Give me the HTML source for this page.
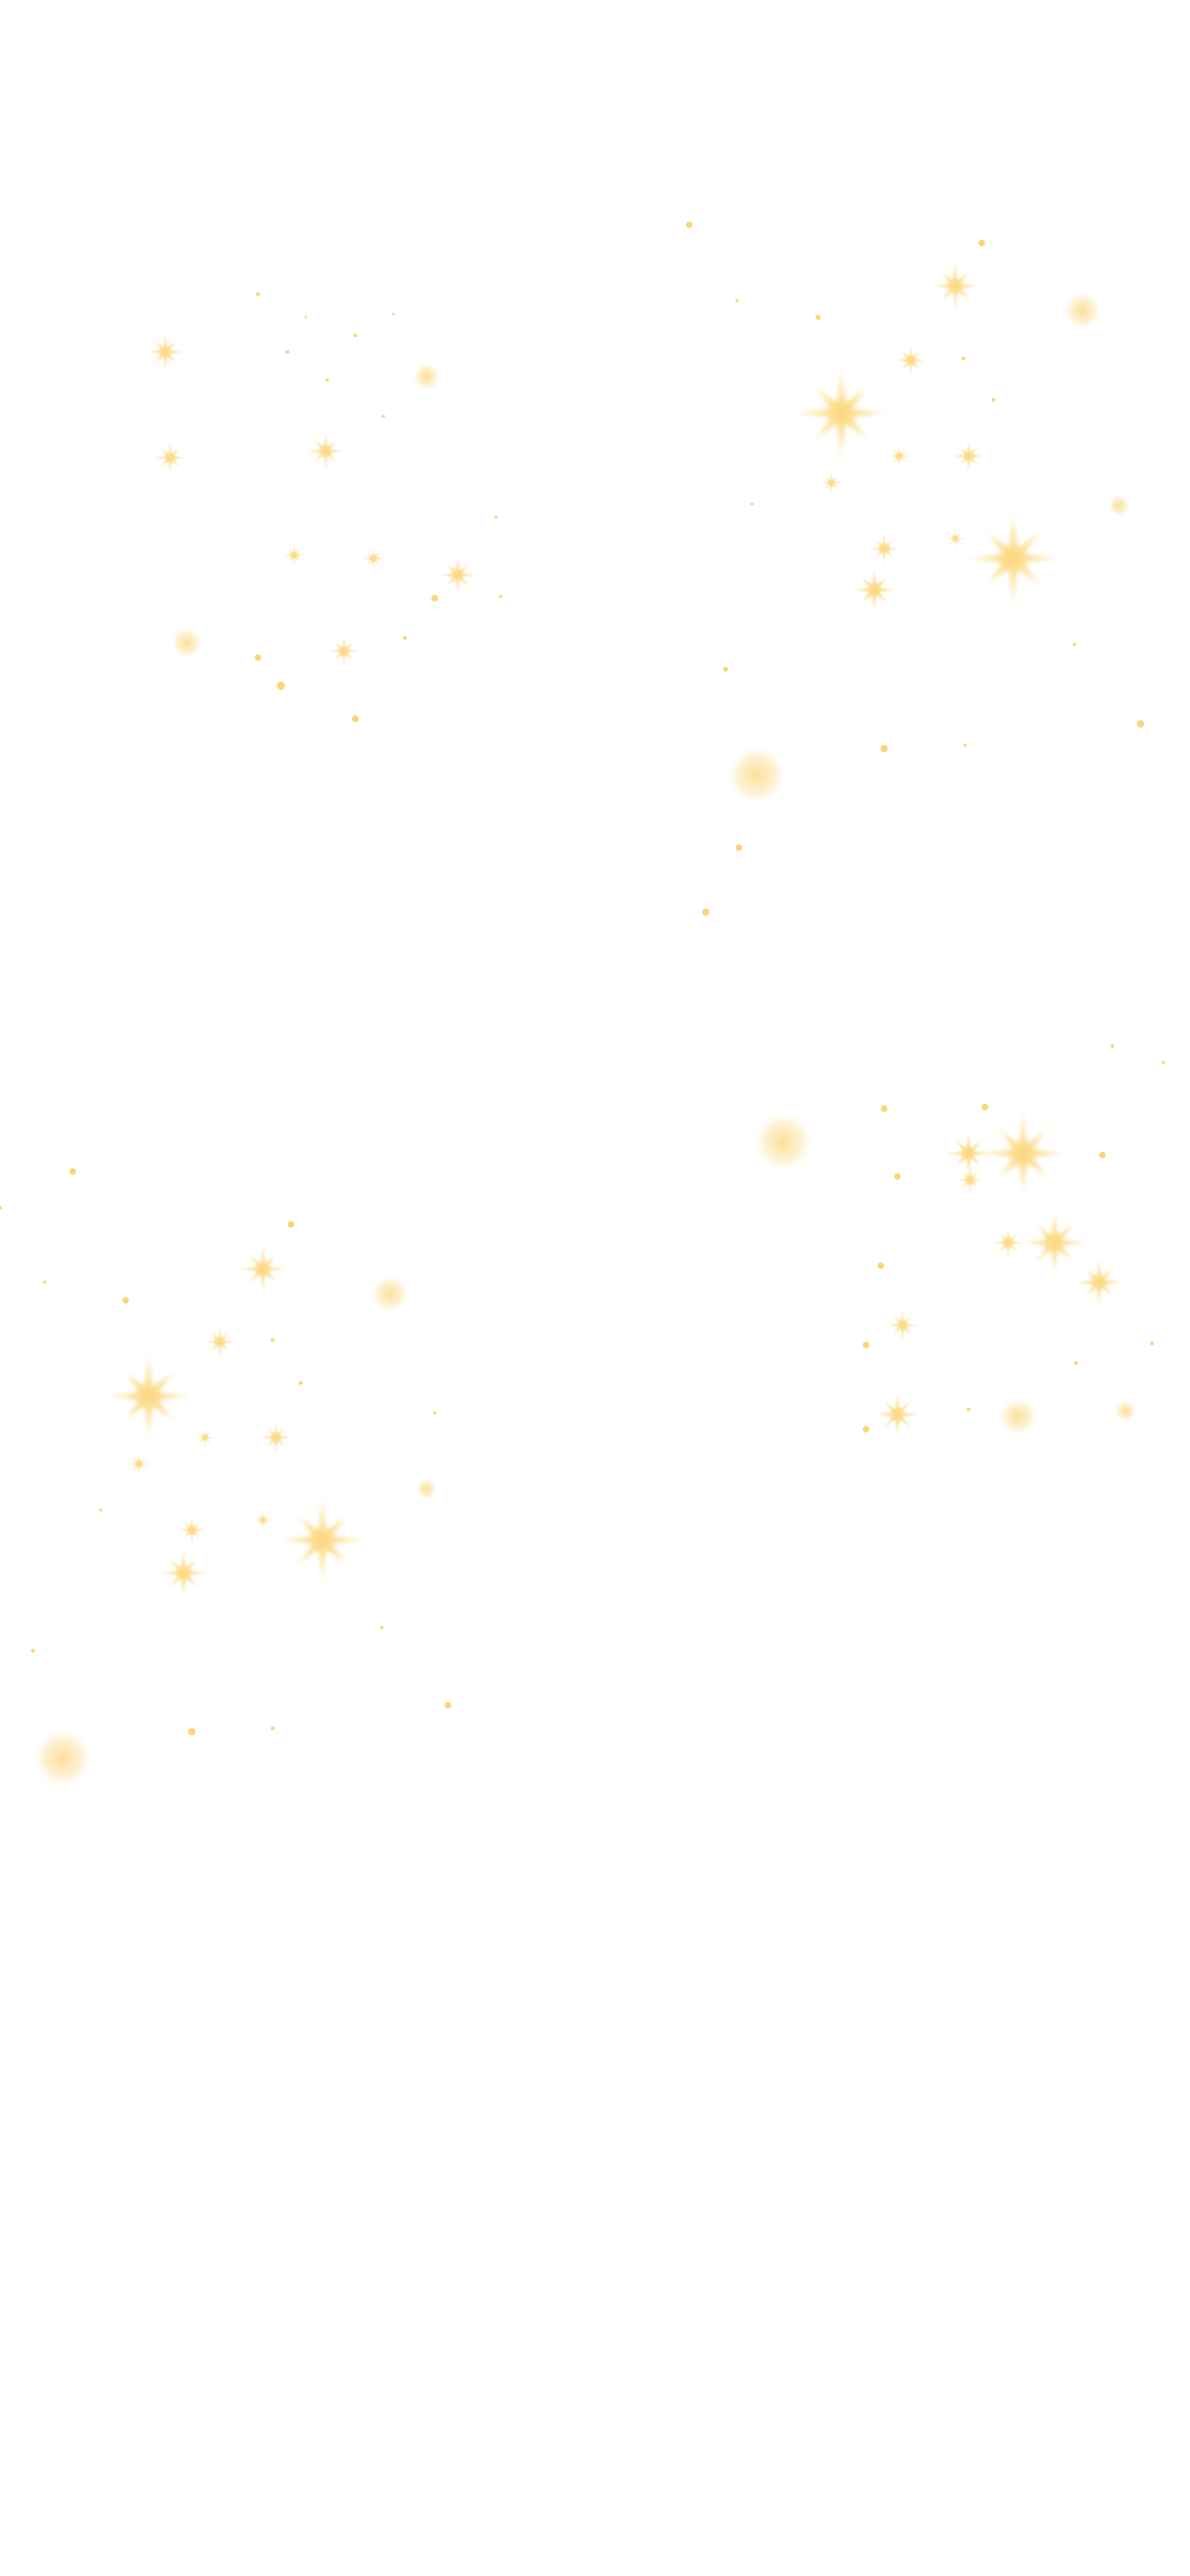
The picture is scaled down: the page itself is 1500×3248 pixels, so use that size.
<!DOCTYPE html>
<html><head><meta charset="utf-8"><style>html,body{margin:0;padding:0;background:#fff}svg{display:block}</style></head>
<body>
<svg width="1500" height="3248" viewBox="0 0 720 1559" xmlns="http://www.w3.org/2000/svg">
<defs>
<radialGradient id="sg"><stop offset="0" stop-color="#fcd67c"/><stop offset="0.5" stop-color="#fde6aa"/><stop offset="1" stop-color="#fff5dc"/></radialGradient>
<radialGradient id="gl"><stop offset="0" stop-color="#fcdb8c" stop-opacity="0.9"/><stop offset="0.6" stop-color="#fde9b6" stop-opacity="0.6"/><stop offset="1" stop-color="#fff" stop-opacity="0"/></radialGradient>
<filter id="b" x="-50%" y="-50%" width="200%" height="200%"><feGaussianBlur stdDeviation="0.05"/></filter>
<g id="s">
<circle r="0.4" fill="url(#gl)"/>
<polygon fill="url(#sg)" points="0,-1 0.09,-0.22 0.56,-0.56 0.22,-0.09 1,0 0.22,0.09 0.56,0.56 0.09,0.22 0,1 -0.09,0.22 -0.56,0.56 -0.22,0.09 -1,0 -0.22,-0.09 -0.56,-0.56 -0.09,-0.22" filter="url(#b)"/>
</g>
</defs>
<g>
<use href="#s" transform="translate(100,213) scale(12)"/>
<use href="#s" transform="translate(103,277) scale(10)"/>
<use href="#s" transform="translate(197,273) scale(12)"/>
<use href="#s" transform="translate(178,336) scale(7)"/>
<use href="#s" transform="translate(226,338) scale(7)"/>
<use href="#s" transform="translate(277,348) scale(12)"/>
<use href="#s" transform="translate(208,394) scale(10)"/>

<use href="#s" transform="translate(509,250) scale(28)"/>
<use href="#s" transform="translate(613,338) scale(28)"/>
<use href="#s" transform="translate(578,173) scale(15)"/>
<use href="#s" transform="translate(551,218) scale(10)"/>
<use href="#s" transform="translate(544,276) scale(7)"/>
<use href="#s" transform="translate(586,276) scale(10)"/>
<use href="#s" transform="translate(503,292) scale(7)"/>
<use href="#s" transform="translate(535,332) scale(10)"/>
<use href="#s" transform="translate(529,357) scale(14)"/>
<use href="#s" transform="translate(578,326) scale(6)"/>

<use href="#s" transform="translate(619,698) scale(26)"/>
<use href="#s" transform="translate(586,698) scale(14)"/>
<use href="#s" transform="translate(587,714) scale(9)"/>
<use href="#s" transform="translate(638,752) scale(20)"/>
<use href="#s" transform="translate(665,776) scale(15)"/>
<use href="#s" transform="translate(610,752) scale(10)"/>
<use href="#s" transform="translate(546,802) scale(10)"/>
<use href="#s" transform="translate(543,856) scale(14)"/>

<use href="#s" transform="translate(90,845) scale(26)"/>
<use href="#s" transform="translate(195,932) scale(26)"/>
<use href="#s" transform="translate(159,768) scale(15)"/>
<use href="#s" transform="translate(133,812) scale(10)"/>
<use href="#s" transform="translate(167,870) scale(10)"/>
<use href="#s" transform="translate(111,952) scale(15)"/>
<use href="#s" transform="translate(116,926) scale(9)"/>
<use href="#s" transform="translate(124,870) scale(6)"/>
<use href="#s" transform="translate(84,886) scale(7)"/>
<use href="#s" transform="translate(159,920) scale(6)"/>
</g>
<g fill="url(#gl)">
<circle cx="258" cy="228" r="9"/>
<circle cx="113" cy="389" r="10"/>
<circle cx="655" cy="188" r="12"/>
<circle cx="677" cy="306" r="7"/>
<circle cx="458" cy="469" r="19"/>
<circle cx="474" cy="691" r="19"/>
<circle cx="616" cy="857" r="12"/>
<circle cx="681" cy="854" r="7"/>
<circle cx="236" cy="783" r="12"/>
<circle cx="258" cy="901" r="7"/>
<circle cx="38" cy="1064" r="19"/>
</g>
<g fill="#fcd57a">
<circle cx="156" cy="178" r="1.2"/><circle cx="174" cy="213" r="1.2"/><circle cx="215" cy="203" r="1.2"/><circle cx="198" cy="230" r="1"/><circle cx="232" cy="252" r="1"/><circle cx="263" cy="362" r="2"/><circle cx="245" cy="386" r="1.2"/><circle cx="156" cy="398" r="2"/><circle cx="170" cy="415" r="2.5"/><circle cx="215" cy="435" r="2"/><circle cx="300" cy="313" r="1"/><circle cx="303" cy="361" r="1"/><circle cx="185" cy="192" r="0.8"/><circle cx="238" cy="190" r="0.8"/>
<circle cx="417" cy="136" r="2"/><circle cx="594" cy="147" r="2"/><circle cx="495" cy="192" r="1.6"/><circle cx="446" cy="182" r="1"/><circle cx="583" cy="217" r="1.2"/><circle cx="601" cy="242" r="1.2"/><circle cx="535" cy="453" r="2.2"/><circle cx="690" cy="438" r="2.2"/><circle cx="439" cy="405" r="1.5"/><circle cx="447" cy="513" r="2"/><circle cx="427" cy="552" r="2.2"/><circle cx="650" cy="390" r="1"/><circle cx="584" cy="451" r="1"/><circle cx="455" cy="305" r="1"/>
<circle cx="535" cy="671" r="2"/><circle cx="596" cy="670" r="2"/><circle cx="667" cy="699" r="2"/><circle cx="543" cy="712" r="2"/><circle cx="533" cy="766" r="2"/><circle cx="524" cy="814" r="2"/><circle cx="524" cy="865" r="2"/><circle cx="673" cy="633" r="1.2"/><circle cx="697" cy="813" r="1.2"/><circle cx="651" cy="825" r="1.2"/><circle cx="586" cy="853" r="1.2"/><circle cx="704" cy="643" r="1"/>
<circle cx="44" cy="709" r="2"/><circle cx="176" cy="741" r="2"/><circle cx="76" cy="787" r="2"/><circle cx="27" cy="776" r="1"/><circle cx="116" cy="1048" r="2.2"/><circle cx="165" cy="1046" r="1.2"/><circle cx="271" cy="1032" r="2"/><circle cx="231" cy="985" r="1"/><circle cx="20" cy="999" r="1.2"/><circle cx="0" cy="731" r="1.2"/><circle cx="165" cy="811" r="1.2"/><circle cx="182" cy="837" r="1.2"/><circle cx="61" cy="914" r="1"/><circle cx="263" cy="855" r="1"/>
</g>
</svg>
</body></html>
